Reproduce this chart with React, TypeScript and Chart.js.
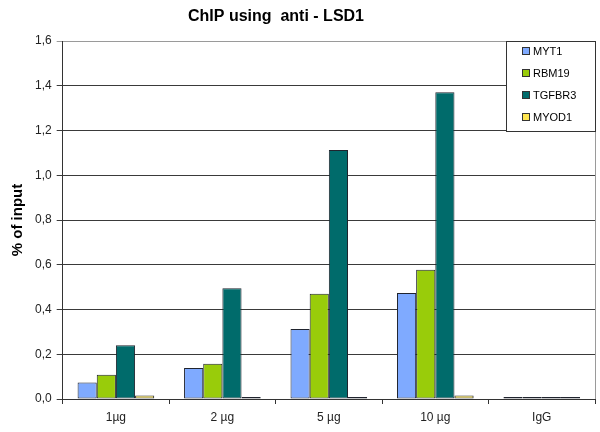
import React, { useEffect, useRef } from "react";
import { Chart, registerables } from "chart.js";

Chart.register(...registerables);

const TITLE = "ChIP using  anti - LSD1";
const Y_TITLE = "% of input";
const categories = ["1µg", "2 µg", "5 µg", "10 µg", "IgG"];
const seriesNames = ["MYT1", "RBM19", "TGFBR3", "MYOD1"];
const myt1 = [0.074, 0.139, 0.313, 0.474, 0.002];
const rbm19 = [0.108, 0.157, 0.47, 0.578, 0.002];
const tgfbr3 = [0.24, 0.495, 1.113, 1.371, 0.002];
const myod1 = [0.016, 0.003, 0.008, 0.016, 0.008];
const colors = ["#7FAAFF", "#99CC0A", "#006B6B", "#FFE650"];
const yTicks = [0, 0.2, 0.4, 0.6, 0.8, 1.0, 1.2, 1.4, 1.6];

const FONT = "'Liberation Sans', Arial, sans-serif";

const decorPlugin = {
  id: "decor",
  afterDraw(chart: any) {
    const { ctx, chartArea } = chart;
    ctx.save();
    // right edge of plot
    ctx.strokeStyle = "#9a9a9a";
    ctx.lineWidth = 1;
    ctx.beginPath();
    ctx.moveTo(Math.round(chartArea.right) + 0.5, chartArea.top);
    ctx.lineTo(Math.round(chartArea.right) + 0.5, chartArea.bottom);
    ctx.stroke();

    // title
    ctx.fillStyle = "#000";
    ctx.font = `bold 16px ${FONT}`;
    ctx.textAlign = "center";
    ctx.textBaseline = "middle";
    ctx.fillText(TITLE, 276, 17);

    // legend
    const bx = 506, by = 41, bw = 89, bh = 90;
    ctx.fillStyle = "#fff";
    ctx.fillRect(bx, by, bw, bh);
    ctx.strokeStyle = "#333";
    ctx.lineWidth = 1;
    ctx.strokeRect(bx + 0.5, by + 0.5, bw, bh);
    ctx.font = `11px ${FONT}`;
    ctx.textAlign = "left";
    ctx.textBaseline = "middle";
    chart.data.datasets.forEach((ds: any, i: number) => {
      const cy = 51 + i * 22;
      ctx.fillStyle = ds.backgroundColor;
      ctx.fillRect(522, cy - 3.5, 7, 7);
      ctx.strokeStyle = "#333";
      ctx.strokeRect(522.5, cy - 3.5, 7, 7);
      ctx.fillStyle = "#000";
      ctx.fillText(ds.label, 533, cy + 0.5);
    });
    ctx.restore();
  },
};

export default function App() {
  const ref = useRef<HTMLCanvasElement | null>(null);
  useEffect(() => {
    if (!ref.current) return;
    const allSeries = [myt1, rbm19, tgfbr3, myod1];
    const chart = new Chart(ref.current, {
      type: "bar",
      data: {
        labels: categories,
        datasets: seriesNames.map((name, i) => ({
          label: name,
          data: allSeries[i],
          backgroundColor: colors[i],
          borderColor: "#20242e",
          borderWidth: 1,
          borderSkipped: false,
          minBarLength: 2,
          categoryPercentage: 0.72,
          barPercentage: 1,
        })),
      },
      options: {
        animation: false,
        responsive: false,
        maintainAspectRatio: false,
        devicePixelRatio: 1,
        layout: { padding: { top: 41, right: 5, bottom: 0, left: 9 } },
        plugins: {
          legend: { display: false },
          title: { display: false },
          tooltip: { enabled: false },
        },
        scales: {
          x: {
            offset: true,
            grid: {
              offset: true,
              drawOnChartArea: false,
              drawTicks: true,
              tickLength: 5,
              color: "#333",
            },
            border: { color: "#333", width: 1 },
            ticks: {
              color: "#222",
              padding: 8,
              font: { family: FONT, size: 12, lineHeight: 1 },
              maxRotation: 0,
            },
          },
          y: {
            min: 0,
            max: 1.6,
            afterBuildTicks: (axis: any) => {
              axis.ticks = yTicks.map((v) => ({ value: v }));
            },
            grid: {
              color: (c: any) => (c.tick && c.tick.value === 1.6 ? "#9a9a9a" : "#3a3a3a"),
              tickLength: 6,
              lineWidth: 1,
            },
            border: { color: "#333", width: 1 },
            ticks: {
              color: "#222",
              padding: 5,
              font: { family: FONT, size: 12 },
              callback: (v: any) => Number(v).toFixed(1).replace(".", ","),
            },
            title: {
              display: true,
              text: Y_TITLE,
              color: "#000",
              font: { family: FONT, size: 15, weight: "bold" },
              padding: { top: 0, bottom: 3 },
            },
          },
        },
      },
      plugins: [decorPlugin],
    });
    return () => chart.destroy();
  }, []);
  return (
    <div style={{ position: "fixed", left: 0, top: 0, width: 600, height: 432, background: "#fff" }}>
      <canvas ref={ref} width={600} height={432} style={{ width: 600, height: 432 }} />
    </div>
  );
}
